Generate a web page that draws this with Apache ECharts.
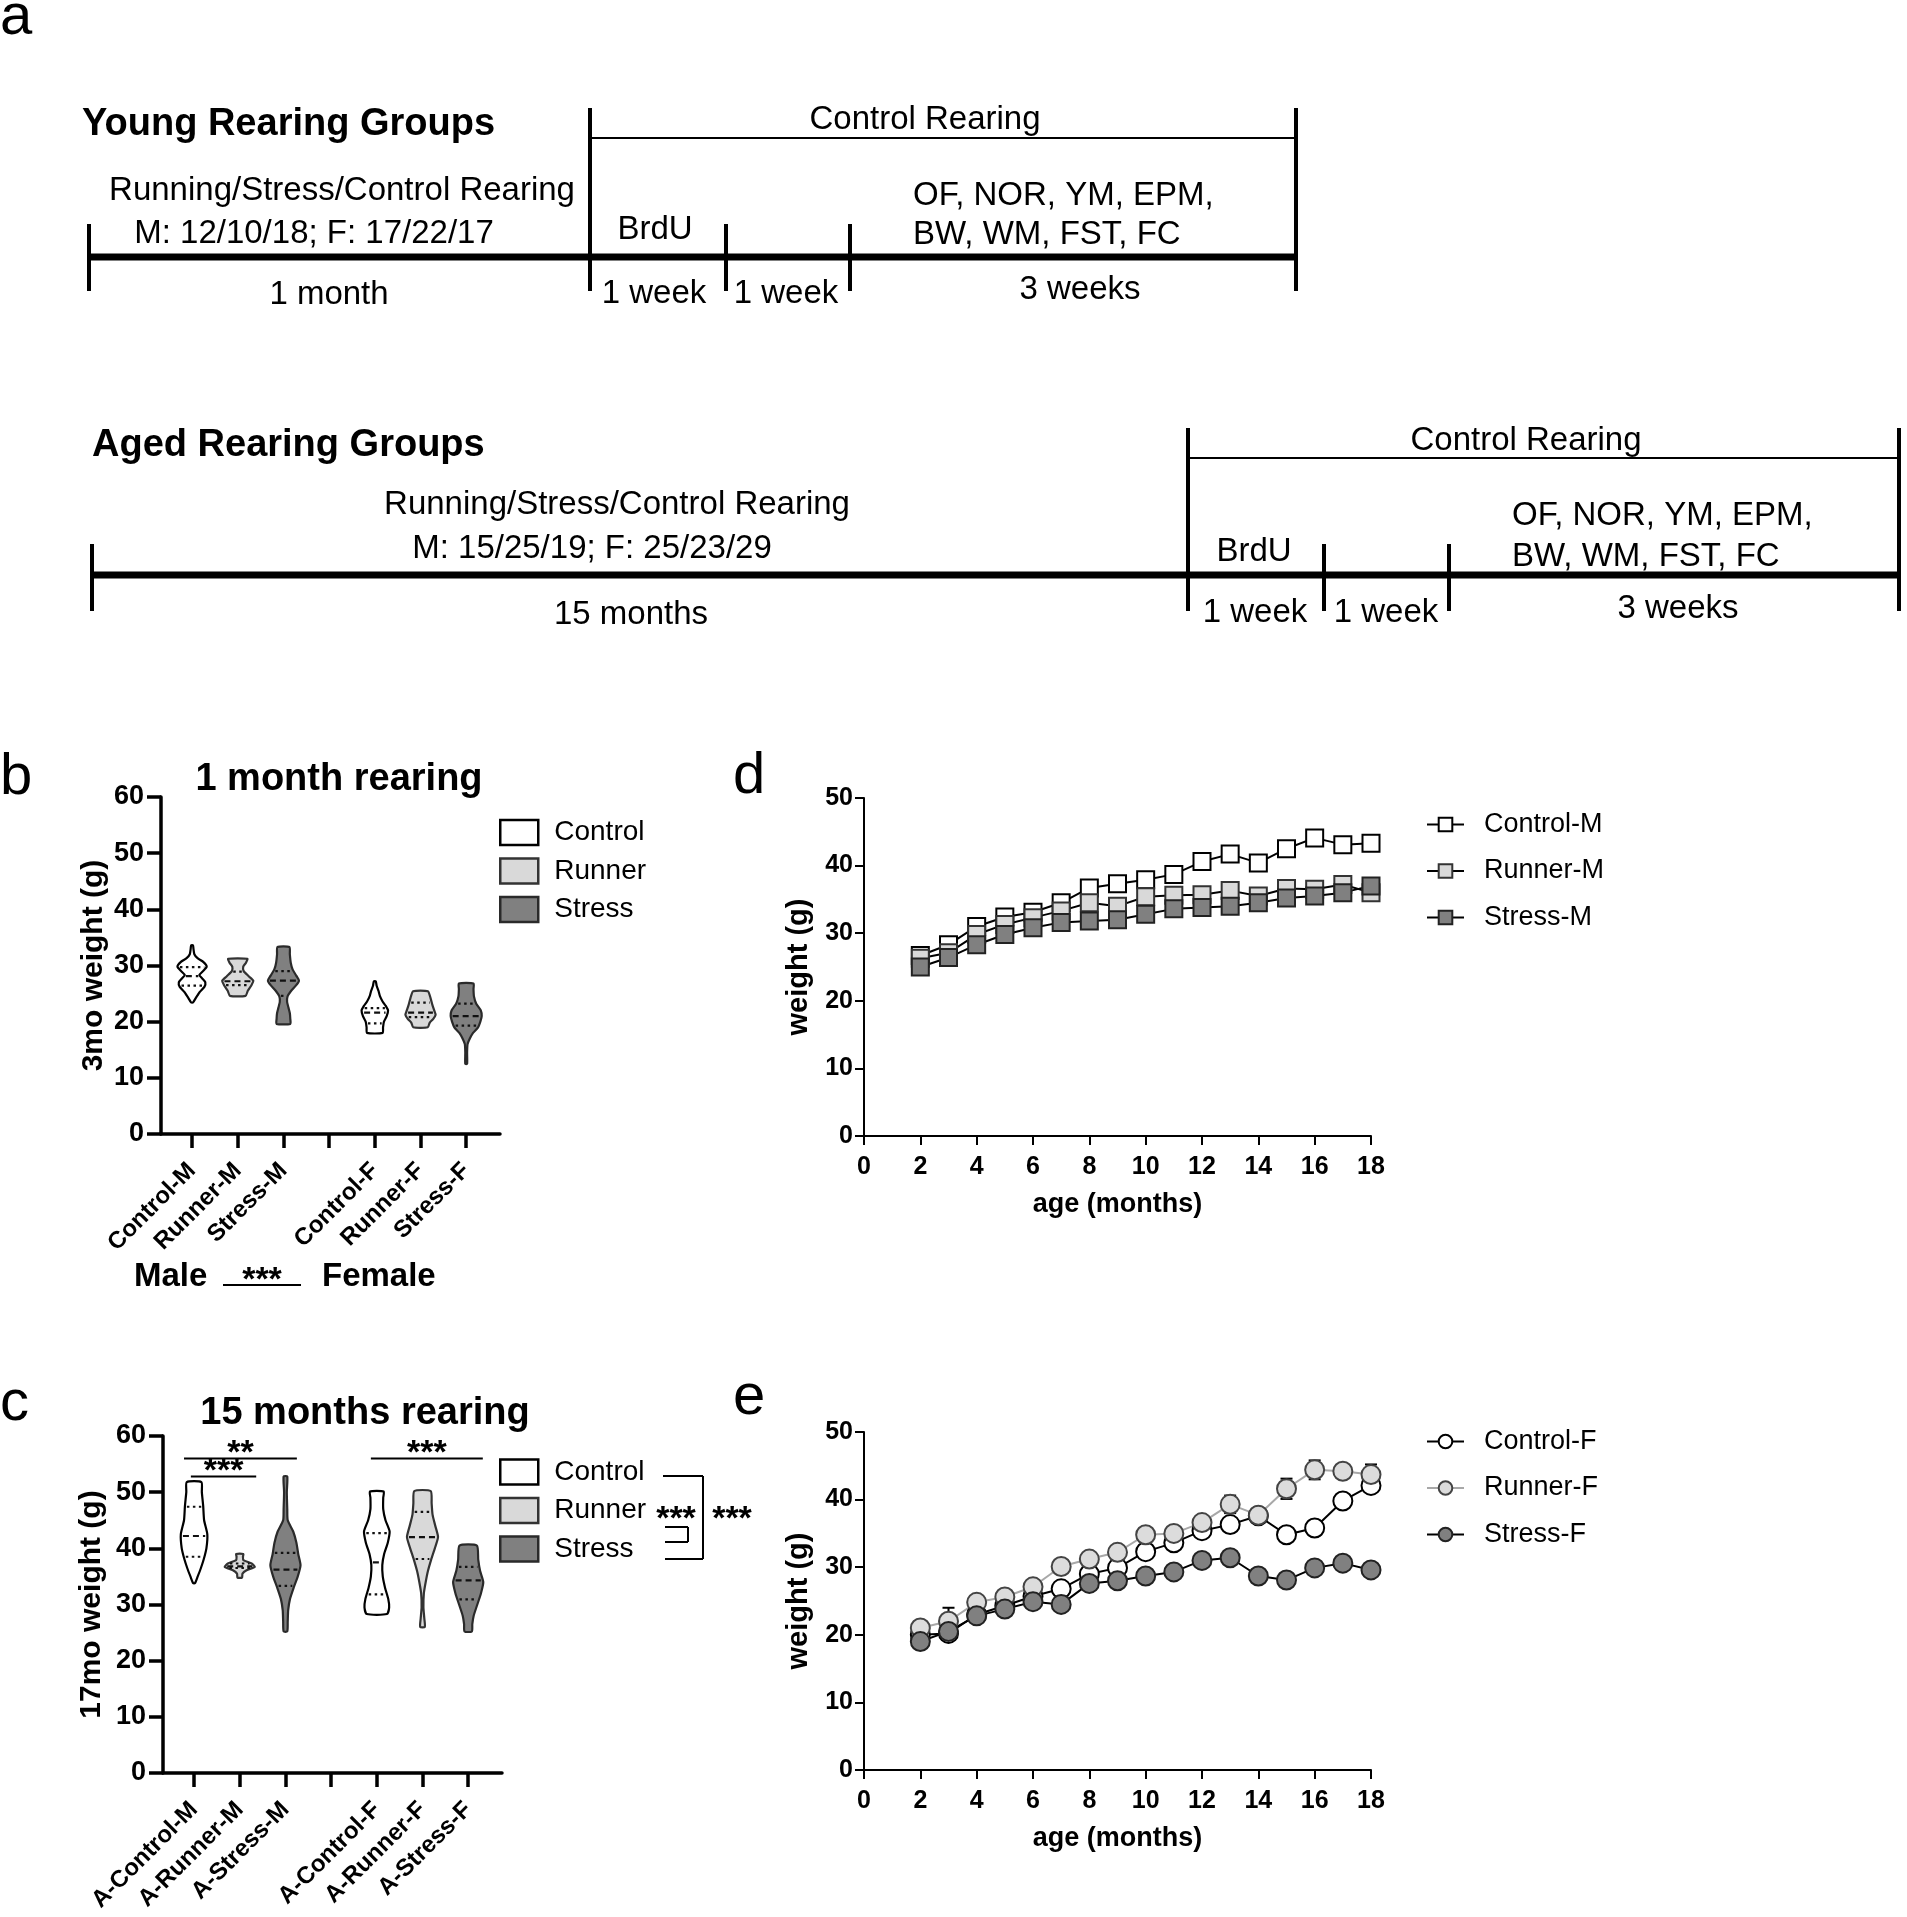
<!DOCTYPE html>
<html><head><meta charset="utf-8">
<script src="https://cdn.jsdelivr.net/npm/echarts@6/dist/echarts.min.js"></script>
<style>html,body{margin:0;padding:0;background:#fff}#c{width:1907px;height:1917px}</style>
</head><body><div id="c"></div>
<script>
// ================= DATA =================
// Panel a (schematic) texts
const youngTitle = 'Young Rearing Groups';
const agedTitle = 'Aged Rearing Groups';
const youngPhases = ['1 month', '1 week', '1 week', '3 weeks'];
const agedPhases = ['15 months', '1 week', '1 week', '3 weeks'];
const youngN = 'M: 12/10/18; F: 17/22/17';
const agedN = 'M: 15/25/19; F: 25/23/29';
const rearingText = 'Running/Stress/Control Rearing';
const controlRearingText = 'Control Rearing';
const brduText = 'BrdU';
const testsText = ['OF, NOR, YM, EPM,', 'BW, WM, FST, FC'];

// Panels b, c (violins)
const groupsB = ['Control-M', 'Runner-M', 'Stress-M', '', 'Control-F', 'Runner-F', 'Stress-F'];
const groupsC = ['A-Control-M', 'A-Runner-M', 'A-Stress-M', '', 'A-Control-F', 'A-Runner-F', 'A-Stress-F'];
const conditions = ['Control', 'Runner', 'Stress'];
// density profiles: [weight (g), relative density half-width]
const bControlM = [[23.4,0.02],[24.2,0.08],[25.2,0.16],[26.2,0.27],[27.0,0.29],[27.7,0.22],[28.3,0.16],[29.0,0.24],[29.8,0.32],[30.6,0.25],[31.3,0.12],[32.0,0.05],[33.0,0.03],[33.6,0.02]];
const bRunnerM = [[24.6,0.17],[25.5,0.22],[26.5,0.30],[27.3,0.34],[28.1,0.24],[29.0,0.13],[29.8,0.12],[30.5,0.18],[31.2,0.21]];
const bStressM = [[19.6,0.15],[20.5,0.15],[21.5,0.14],[22.5,0.11],[23.5,0.08],[24.5,0.09],[25.5,0.17],[26.5,0.28],[27.3,0.34],[28.2,0.28],[29.3,0.20],[30.5,0.16],[32.0,0.14],[33.3,0.13]];
const bControlF = [[18.0,0.17],[19.0,0.18],[20.0,0.20],[21.0,0.26],[22.0,0.29],[22.8,0.24],[23.6,0.17],[24.6,0.11],[25.5,0.08],[26.4,0.04],[27.2,0.02]];
const bRunnerF = [[19.0,0.16],[19.8,0.20],[20.5,0.28],[21.2,0.33],[22.0,0.30],[23.0,0.26],[24.2,0.22],[25.4,0.16]];
const bStressF = [[12.5,0.02],[14.5,0.02],[16.0,0.03],[17.0,0.08],[18.0,0.15],[19.0,0.26],[20.0,0.31],[21.0,0.34],[22.0,0.32],[23.2,0.22],[24.5,0.17],[25.8,0.16],[26.8,0.16]];
const cControlM = [[33.8,0.02],[35.0,0.08],[36.5,0.15],[38.0,0.21],[40.0,0.27],[42.5,0.29],[45.0,0.22],[47.5,0.20],[50.0,0.17],[51.8,0.16]];
const cRunnerM = [[34.8,0.05],[35.5,0.06],[36.1,0.15],[36.7,0.33],[37.3,0.26],[37.9,0.08],[38.5,0.07],[39.0,0.08]];
const cStressM = [[25.2,0.04],[27.0,0.05],[29.0,0.06],[31.0,0.10],[33.0,0.18],[35.0,0.27],[37.0,0.33],[39.0,0.28],[41.0,0.24],[43.0,0.17],[45.0,0.05],[47.0,0.04],[50.0,0.03],[52.8,0.04]];
const cControlF = [[28.3,0.22],[29.5,0.27],[31.0,0.25],[33.0,0.18],[35.0,0.13],[37.0,0.12],[39.0,0.16],[41.0,0.24],[43.0,0.28],[45.0,0.19],[47.0,0.14],[49.0,0.14],[50.1,0.15]];
const cRunnerF = [[26.0,0.05],[27.5,0.04],[29.5,0.02],[32.0,0.03],[34.0,0.07],[36.0,0.12],[38.0,0.19],[40.0,0.27],[42.0,0.34],[44.0,0.28],[46.0,0.22],[48.0,0.20],[50.2,0.18]];
const cStressF = [[25.2,0.08],[26.5,0.09],[28.0,0.12],[30.0,0.20],[32.0,0.28],[34.0,0.33],[36.0,0.26],[38.0,0.22],[40.5,0.19]];
// quartiles [Q1, median, Q3]
const bControlMQ = [26.4, 28.1, 29.7];
const bRunnerMQ = [26.5, 27.2, 28.9];
const bStressMQ = [24.6, 27.3, 29.0];
const bControlFQ = [19.7, 21.6, 22.4];
const bRunnerFQ = [20.8, 21.6, 23.4];
const bStressFQ = [19.3, 21.0, 23.2];
const cControlMQ = [38.5, 42.2, 47.4];
const cRunnerMQ = [36.5, 36.8, 37.3];
const cStressMQ = [33.3, 36.2, 39.2];
const cControlFQ = [31.8, 37.5, 42.7];
const cRunnerFQ = [38.1, 42.0, 46.5];
const cStressFQ = [30.9, 34.3, 36.7];
// significance brackets in panel c: [from group pos, to group pos, weight level, label]
const sigC = [[0.78, 3.25, 56.0, '**'], [0.93, 2.36, 52.8, '***'], [4.87, 7.32, 56.0, '***']];
const sigLabel = '***';

// Panels d, e (weights over age)
const ages = [2,3,4,5,6,7,8,9,10,11,12,13,14,15,16,17,18];
const controlM = [26.7,28.3,31.0,32.4,33.1,34.5,36.7,37.3,37.9,38.7,40.6,41.7,40.4,42.5,44.1,43.1,43.3];
const runnerM  = [26.3,27.1,29.8,31.3,32.3,33.3,34.5,34.0,35.4,35.6,35.7,36.3,35.5,36.6,36.5,37.2,36.0];
const stressM  = [25.0,26.4,28.3,29.8,30.8,31.6,31.8,32.0,32.8,33.6,33.8,34.0,34.5,35.2,35.5,36.0,37.0];
const semControlM = [0.7,0.6,0.6,0.6,0.6,0.7,0.7,0.7,0.7,0.7,0.8,0.9,0.9,0.9,0.8,0.8,0.8];
const semRunnerM  = [0.6,0.6,0.6,0.6,0.6,0.6,0.7,0.7,0.7,0.7,0.7,0.7,0.7,0.7,0.7,0.8,0.8];
const semStressM  = [0.6,0.6,0.6,0.6,0.6,0.7,0.7,0.7,0.7,0.7,0.7,0.8,0.7,0.7,0.7,0.8,1.0];
const controlF = [20.0,20.2,23.0,24.3,25.7,26.8,29.0,29.9,32.3,33.6,35.4,36.3,37.6,34.8,35.8,39.8,42.1];
const runnerF  = [21.0,22.0,24.8,25.6,27.1,30.1,31.2,32.2,34.8,35.0,36.6,39.3,37.7,41.6,44.4,44.2,43.7];
const stressF  = [19.0,20.5,22.8,23.8,24.9,24.5,27.6,28.0,28.7,29.3,31.0,31.4,28.7,28.1,29.9,30.6,29.6];
const semControlF = [0.6,0.6,0.6,0.6,0.6,0.7,0.7,0.7,0.7,0.8,1.0,1.0,0.8,0.9,1.1,0.9,0.9];
const semRunnerF  = [0.7,2.0,0.7,0.7,0.8,0.7,0.7,0.7,0.8,0.8,0.8,1.3,0.8,1.5,1.4,0.9,1.5];
const semStressF  = [0.6,0.6,0.6,0.6,0.6,0.7,0.7,0.7,0.7,0.7,1.0,0.8,1.0,1.0,0.8,0.7,0.7];

// ================= LAYOUT / STYLE =================
const FONT = '"Liberation Sans", Arial, Helvetica, sans-serif';
const FILL = {Control: '#ffffff', Runner: '#d9d9d9', Stress: '#808080'};
const EDGE = {Control: '#000000', Runner: '#333333', Stress: '#2a2a2a'};

// overlay element list (schematic a + free annotations), pixel layout
const L = [];
function ln(x1, y1, x2, y2, w) { L.push({k: 'l', x1, y1, x2, y2, w}); }
function tx(t, x, y, size, opt) { L.push(Object.assign({k: 't', t, x, y, size, align: 'center', weight: 'normal'}, opt || {})); }

// panel letters
tx('a', 0, 18, 58, {align: 'left'});
tx('b', 0, 778, 58, {align: 'left'});
tx('c', 0, 1404, 58, {align: 'left'});
tx('d', 733, 777, 58, {align: 'left'});
tx('e', 733, 1398, 58, {align: 'left'});

// schematic timelines
const TY = 3; // text baseline nudge
function timeline(cfg, phases, nText) {
  ln(cfg.x0, cfg.y, cfg.x1, cfg.y, 7);
  ln(cfg.x0, cfg.tickTop, cfg.x0, cfg.bottom, 4);
  ln(cfg.breaks[0], cfg.capTop, cfg.breaks[0], cfg.bottom, 4);
  ln(cfg.breaks[1], cfg.tickTop, cfg.breaks[1], cfg.bottom, 4);
  ln(cfg.breaks[2], cfg.tickTop, cfg.breaks[2], cfg.bottom, 4);
  ln(cfg.x1, cfg.capTop, cfg.x1, cfg.bottom, 4);
  ln(cfg.breaks[0], cfg.topLine, cfg.x1, cfg.topLine, 2);
  tx(cfg.title, cfg.titleX, cfg.titleY + TY, 38, {align: 'left', weight: 'bold'});
  tx(controlRearingText, cfg.crX, cfg.crY + TY, 33);
  tx(rearingText, cfg.rrX, cfg.rrY + TY, 33);
  tx(nText, cfg.nX, cfg.nY + TY, 33);
  tx(brduText, cfg.brduX, cfg.brduY + TY, 33);
  tx(testsText[0], cfg.testX, cfg.testY1 + TY, 33, {align: 'left'});
  tx(testsText[1], cfg.testX, cfg.testY2 + TY, 33, {align: 'left'});
  phases.forEach((p, i) => tx(p, cfg.phaseX[i], cfg.phaseY[i] + TY, 33));
}
timeline({title: youngTitle, titleX: 82, titleY: 122, x0: 89, breaks: [590, 726, 850], x1: 1296, y: 257,
  tickTop: 224, capTop: 108, bottom: 291, topLine: 138, crX: 925, crY: 117, rrX: 342, rrY: 188, nX: 314, nY: 231,
  brduX: 655, brduY: 227, testX: 913, testY1: 193, testY2: 232, phaseX: [329, 654, 786, 1080], phaseY: [292, 291, 291, 287]},
  youngPhases, youngN);
timeline({title: agedTitle, titleX: 92, titleY: 443, x0: 92, breaks: [1188, 1324, 1449], x1: 1899, y: 575,
  tickTop: 544, capTop: 428, bottom: 611, topLine: 458, crX: 1526, crY: 438, rrX: 617, rrY: 502, nX: 592, nY: 546,
  brduX: 1254, brduY: 549, testX: 1512, testY1: 513, testY2: 554, phaseX: [631, 1255, 1386, 1678], phaseY: [612, 610, 610, 606]},
  agedPhases, agedN);

// panel titles
tx('1 month rearing', 339, 780, 38, {weight: 'bold'});
tx('15 months rearing', 365, 1414, 38, {weight: 'bold'});
// Male *** Female (panel b)
tx('Male', 134, 1277, 33, {align: 'left', weight: 'bold'});
tx(sigLabel, 262, 1281, 34, {weight: 'bold'});
ln(223, 1285, 301, 1285, 2);
tx('Female', 322, 1277, 33, {align: 'left', weight: 'bold'});
// legend brackets panel c
ln(663, 1476, 703, 1476, 2); ln(703, 1476, 703, 1559, 2); ln(665, 1559, 703, 1559, 2);
ln(665, 1527, 688, 1527, 2); ln(688, 1527, 688, 1542, 2); ln(665, 1542, 688, 1542, 2);
tx(sigLabel, 676, 1520, 34, {weight: 'bold'});
tx(sigLabel, 732, 1520, 34, {weight: 'bold'});

// ================= HELPERS =================
function interp(prof, y) {
  if (y <= prof[0][0]) return prof[0][1];
  for (let i = 1; i < prof.length; i++) {
    if (y <= prof[i][0]) {
      const t = (y - prof[i - 1][0]) / (prof[i][0] - prof[i - 1][0]);
      return prof[i - 1][1] + t * (prof[i][1] - prof[i - 1][1]);
    }
  }
  return prof[prof.length - 1][1];
}

function violinSeries(name, axis, positions, profiles, quarts) {
  return {
    type: 'custom', name, xAxisIndex: axis, yAxisIndex: axis, z: 3,
    itemStyle: {color: FILL[name], borderColor: EDGE[name], borderWidth: 2},
    data: positions.map((p, i) => [p, quarts[i][1]]),
    renderItem(params, api) {
      const i = params.dataIndex;
      const x = api.value(0);
      const prof = profiles[i];
      const pts = [];
      prof.forEach(([y, hw]) => pts.push(api.coord([x + hw, y])));
      for (let k = prof.length - 1; k >= 0; k--) pts.push(api.coord([x - prof[k][1], prof[k][0]]));
      const children = [{type: 'polygon', shape: {points: pts, smooth: 0.2},
        style: {fill: FILL[name], stroke: EDGE[name], lineWidth: 2.2}}];
      quarts[i].forEach((q, qi) => {
        const hw = interp(prof, q);
        const a = api.coord([x - hw, q]), b = api.coord([x + hw, q]);
        children.push({type: 'line', shape: {x1: a[0] + 2, y1: a[1], x2: b[0] - 2, y2: b[1]},
          style: {stroke: '#111', lineWidth: 2.2, lineDash: qi === 1 ? [6, 4] : [2.5, 3.5]}});
      });
      return {type: 'group', children};
    }
  };
}

function errSeries(axis, ys, sems) {
  return {
    type: 'custom', xAxisIndex: axis, yAxisIndex: axis, z: 1, silent: true,
    data: ages.map((a, i) => [a, ys[i], sems[i]]),
    renderItem(params, api) {
      const x = api.value(0), y = api.value(1), e = api.value(2);
      const t = api.coord([x, y + e]), b = api.coord([x, y - e]);
      const cw = 6;
      const st = {stroke: '#000', lineWidth: 2};
      return {type: 'group', children: [
        {type: 'line', shape: {x1: t[0], y1: t[1], x2: b[0], y2: b[1]}, style: st},
        {type: 'line', shape: {x1: t[0] - cw, y1: t[1], x2: t[0] + cw, y2: t[1]}, style: st},
        {type: 'line', shape: {x1: b[0] - cw, y1: b[1], x2: b[0] + cw, y2: b[1]}, style: st}
      ]};
    }
  };
}

function lineSeries(name, axis, ys, symbol, fill, edge, lineColor) {
  return {
    type: 'line', name, xAxisIndex: axis, yAxisIndex: axis, z: 4,
    data: ages.map((a, i) => [a, ys[i]]),
    symbol, symbolSize: symbol === 'circle' ? 19 : 17,
    itemStyle: {color: fill, borderColor: edge, borderWidth: 2},
    lineStyle: {color: lineColor, width: 2},
    emphasis: {disabled: true}
  };
}

// ================= AXES =================
const axisFont = {fontFamily: FONT, fontWeight: 'bold', color: '#000'};
function violinX(grid, labels) {
  return {type: 'value', gridIndex: grid, min: 0.32, max: 7.74, splitLine: {show: false},
    axisLine: {onZero: false, lineStyle: {color: '#000', width: 3.5}},
    axisTick: {customValues: [1, 2, 3, 4, 5, 6, 7], length: 14, lineStyle: {color: '#000', width: 3.5}},
    axisLabel: Object.assign({customValues: [1, 2, 3, 5, 6, 7], formatter: v => labels[Math.round(v) - 1],
      rotate: 45, fontSize: 24, margin: 33}, axisFont)};
}
function violinY(grid, name, gap) {
  return {type: 'value', gridIndex: grid, min: 0, max: 60, interval: 10, splitLine: {show: false},
    axisLine: {show: true, onZero: false, lineStyle: {color: '#000', width: 3.5}},
    axisTick: {show: true, length: 14, lineStyle: {color: '#000', width: 3.5}},
    axisLabel: Object.assign({fontSize: 27, margin: 17}, axisFont),
    name, nameLocation: 'middle', nameRotate: 90, nameGap: gap,
    nameTextStyle: {fontFamily: FONT, fontWeight: 'bold', fontSize: 30, color: '#000'}};
}
function ageX(grid) {
  return {type: 'value', gridIndex: grid, min: 0, max: 18, interval: 2, splitLine: {show: false},
    axisLine: {onZero: false, lineStyle: {color: '#000', width: 2}},
    axisTick: {length: 9, lineStyle: {color: '#000', width: 2}},
    axisLabel: Object.assign({fontSize: 25, margin: 19}, axisFont),
    name: 'age (months)', nameLocation: 'middle', nameGap: 55,
    nameTextStyle: {fontFamily: FONT, fontWeight: 'bold', fontSize: 27, color: '#000'}};
}
function weightY(grid) {
  return {type: 'value', gridIndex: grid, min: 0, max: 50, interval: 10, splitLine: {show: false},
    axisLine: {show: true, onZero: false, lineStyle: {color: '#000', width: 2}},
    axisTick: {show: true, length: 9, lineStyle: {color: '#000', width: 2}},
    axisLabel: Object.assign({fontSize: 25, margin: 11}, axisFont),
    name: 'weight (g)', nameLocation: 'middle', nameRotate: 90, nameGap: 51,
    nameTextStyle: {fontFamily: FONT, fontWeight: 'bold', fontSize: 29, color: '#000'}};
}

function boxLegend(top) {
  return {orient: 'vertical', left: 499, top, padding: 0, itemWidth: 38, itemHeight: 25, itemGap: 10.5,
    textStyle: {fontFamily: FONT, fontSize: 28, lineHeight: 28, color: '#000', padding: [0, 0, 0, 11]}, selectedMode: false,
    data: conditions.map(c => ({name: c, icon: 'rect', itemStyle: {color: FILL[c], borderColor: EDGE[c], borderWidth: 2.5}}))};
}
function lineLegend(top, names) {
  return {orient: 'vertical', left: 1426, top, padding: 0, itemWidth: 37, itemHeight: 17, itemGap: 16.5,
    textStyle: {fontFamily: FONT, fontSize: 27, lineHeight: 30, color: '#000', padding: [0, 0, 0, 15]}, selectedMode: false,
    data: names};
}

const option = {
  animation: false,
  backgroundColor: '#ffffff',
  grid: [
    {left: 161, top: 797, width: 339, height: 337},
    {left: 163, top: 1436, width: 339, height: 337},
    {left: 864, top: 798, width: 507, height: 338},
    {left: 864, top: 1432, width: 507, height: 338},
    {left: 0, top: 0, width: 1907, height: 1917}
  ],
  xAxis: [violinX(0, groupsB), violinX(1, groupsC), ageX(2), ageX(3),
    {type: 'value', gridIndex: 4, min: 0, max: 1907, show: false}],
  yAxis: [violinY(0, '3mo weight (g)', 52), violinY(1, '17mo weight (g)', 56), weightY(2), weightY(3),
    {type: 'value', gridIndex: 4, min: 0, max: 1917, inverse: true, show: false}],
  legend: [boxLegend(818.5), boxLegend(1458),
    lineLegend(809.5, ['Control-M', 'Runner-M', 'Stress-M']),
    lineLegend(1426.5, ['Control-F', 'Runner-F', 'Stress-F'])],
  series: [
    violinSeries('Control', 0, [1, 5], [bControlM, bControlF], [bControlMQ, bControlFQ]),
    violinSeries('Runner', 0, [2, 6], [bRunnerM, bRunnerF], [bRunnerMQ, bRunnerFQ]),
    violinSeries('Stress', 0, [3, 7], [bStressM, bStressF], [bStressMQ, bStressFQ]),
    violinSeries('Control', 1, [1, 5], [cControlM, cControlF], [cControlMQ, cControlFQ]),
    violinSeries('Runner', 1, [2, 6], [cRunnerM, cRunnerF], [cRunnerMQ, cRunnerFQ]),
    violinSeries('Stress', 1, [3, 7], [cStressM, cStressF], [cStressMQ, cStressFQ]),
    {
      type: 'custom', xAxisIndex: 1, yAxisIndex: 1, silent: true, z: 5, clip: false,
      data: sigC.map(s => [s[0], s[2], s[1]]),
      renderItem(params, api) {
        const s = sigC[params.dataIndex];
        const a = api.coord([s[0], s[2]]), b = api.coord([s[1], s[2]]);
        return {type: 'group', children: [
          {type: 'line', shape: {x1: a[0], y1: a[1], x2: b[0], y2: b[1]}, style: {stroke: '#000', lineWidth: 2}},
          {type: 'text', x: (a[0] + b[0]) / 2, y: a[1] - 5,
            style: {text: s[3], fill: '#000', font: 'bold 34px ' + FONT, align: 'center', verticalAlign: 'middle',
              textAlign: 'center', textVerticalAlign: 'middle'}}
        ]};
      }
    },
    errSeries(2, controlM, semControlM), errSeries(2, runnerM, semRunnerM), errSeries(2, stressM, semStressM),
    lineSeries('Control-M', 2, controlM, 'rect', '#ffffff', '#000', '#000'),
    lineSeries('Runner-M', 2, runnerM, 'rect', '#d9d9d9', '#333', '#000'),
    lineSeries('Stress-M', 2, stressM, 'rect', '#808080', '#222', '#000'),
    errSeries(3, controlF, semControlF), errSeries(3, runnerF, semRunnerF), errSeries(3, stressF, semStressF),
    lineSeries('Control-F', 3, controlF, 'circle', '#ffffff', '#000', '#000'),
    lineSeries('Runner-F', 3, runnerF, 'circle', '#dcdcdc', '#444', '#a8a8a8'),
    lineSeries('Stress-F', 3, stressF, 'circle', '#808080', '#222', '#000'),
    {
      type: 'custom', xAxisIndex: 4, yAxisIndex: 4, silent: true, z: 10, clip: false,
      data: L.map((e, i) => [i, i]),
      renderItem(params, api) {
        const e = L[params.dataIndex];
        if (e.k === 'l') {
          const a = api.coord([e.x1, e.y1]), b = api.coord([e.x2, e.y2]);
          return {type: 'line', shape: {x1: a[0], y1: a[1], x2: b[0], y2: b[1]}, style: {stroke: '#000', lineWidth: e.w, lineCap: 'butt'}};
        }
        const p = api.coord([e.x, e.y]);
        return {type: 'text', x: p[0], y: p[1],
          style: {text: e.t, fill: '#000', font: e.weight + ' ' + e.size + 'px ' + FONT,
            align: e.align, verticalAlign: 'middle', textAlign: e.align, textVerticalAlign: 'middle'}};
      }
    }
  ]
};
const chart = echarts.init(document.getElementById('c'), null, {renderer: 'canvas'});
chart.setOption(option);
</script></body></html>
